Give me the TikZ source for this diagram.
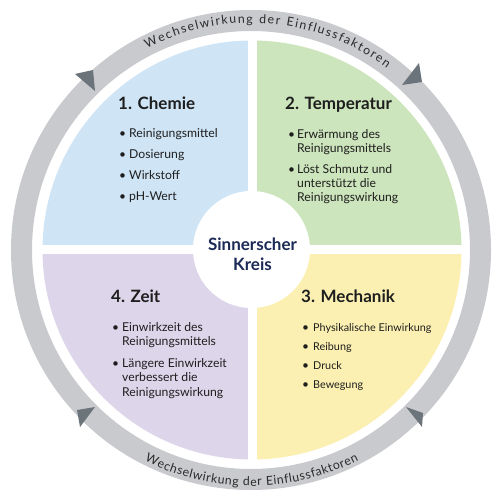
\documentclass[tikz,border=0pt]{standalone}
\usepackage{fontspec}
\setmainfont{Lato}
\usetikzlibrary{decorations.text}
\definecolor{ringgray}{HTML}{C9CACD}
\definecolor{arrowgray}{HTML}{6B737B}
\definecolor{qblue}{HTML}{CFE5F6}
\definecolor{qgreen}{HTML}{CDE5BC}
\definecolor{qpurple}{HTML}{DDD5EA}
\definecolor{qyellow}{HTML}{FBF0B2}
\definecolor{navy}{HTML}{1B2A57}
\definecolor{ink}{HTML}{1E1E1E}
\definecolor{ringtext}{HTML}{2A2A2A}
\begin{document}
\begin{tikzpicture}[x=1pt,y=-1pt,
  title/.style={font=\fontsize{17}{17}\selectfont\bfseries, text=ink, anchor=base west, inner sep=0pt},
  item/.style={font=\fontsize{12.2}{13}\selectfont, text=ink, anchor=base west, inner sep=0pt},
  smallitem/.style={font=\fontsize{10.8}{12}\selectfont, text=ink, anchor=base west, inner sep=0pt},
  bul/.style={font=\fontsize{12}{13}\selectfont, text=ink, anchor=base west, inner sep=0pt},
  center/.style={font=\fontsize{17}{17}\selectfont\bfseries, text=navy, anchor=base, inner sep=0pt},
  arrowhead/.style={fill=arrowgray},
  ringlabel/.style={decorate, decoration={text along path, text align=fit to path,
     text format delimiters={|}{|},
     text={|\fontsize{12.3}{13}\selectfont\color{ringtext}|Wechselwirkung der Einflussfaktoren}}}
]
\useasboundingbox (0,0) rectangle (500,500);
\fill[white] (0,0) rectangle (500,500);
\coordinate (C) at (251,250);
% ring
\fill[ringgray, even odd rule] (C) circle[radius=240] (C) circle[radius=219];
% arrowheads
\fill[arrowhead] (75,74) -- (93,70) -- (95,91) -- cycle;
\fill[arrowhead] (419,63) -- (422,82) -- (402,85) -- cycle;
\fill[arrowhead] (406,407) -- (423,413) -- (422,427) -- cycle;
\fill[arrowhead] (95,407) -- (77,410) -- (80,427) -- cycle;
% ring texts
\path[ringlabel] (C) ++(242.7:227) arc[start angle=242.7, end angle=306.7, radius=227];
\path[ringlabel] (C) ++(116.8:236) arc[start angle=116.8, end angle=62.9, radius=236];
% quadrants
\begin{scope}
\clip (252,250) circle[radius=209.5];
\fill[qblue] (0,0) rectangle (247.5,245);
\fill[qgreen] (256.5,0) rectangle (500,245);
\fill[qpurple] (0,254) rectangle (247.5,500);
\fill[qyellow] (256.5,254) rectangle (500,500);
\end{scope}
\fill[white] (251.5,249.5) circle[radius=58.5];
% center label
\node[center] (c1) at (252.5,250) {Sinnerscher};
\node[center] (c2) at (252.5,270) {Kreis};
% 1. Chemie
\node[title] (t1) at (118,110) {1. Chemie};
\node[bul] (b11) at (119,137) {\textbullet};
\node[item] (i11) at (129,137) {Reinigungsmittel};
\node[bul] (b12) at (119,158) {\textbullet};
\node[item] (i12) at (129,158) {Dosierung};
\node[bul] (b13) at (119,179) {\textbullet};
\node[item] (i13) at (129,179) {Wirkstoff};
\node[bul] (b14) at (119,200) {\textbullet};
\node[item] (i14) at (129,200) {pH-Wert};
% 2. Temperatur
\node[title] (t2) at (285,110) {2. Temperatur};
\node[bul] (b21) at (288,138) {\textbullet};
\node[item] (i21a) at (297,138) {Erwärmung des};
\node[item] (i21b) at (297,152) {Reinigungsmittels};
\node[bul] (b22) at (288,173) {\textbullet};
\node[item] (i22a) at (297,173) {Löst Schmutz und};
\node[item] (i22b) at (297,187) {unterstützt die};
\node[item] (i22c) at (297,201) {Reinigungswirkung};
% 4. Zeit
\node[title] (t4) at (111,302) {4. Zeit};
\node[bul] (b41) at (112,331) {\textbullet};
\node[item] (i41a) at (122,331) {Einwirkzeit des};
\node[item] (i41b) at (122,345) {Reinigungsmittels};
\node[bul] (b42) at (112,367) {\textbullet};
\node[item] (i42a) at (122,367) {Längere Einwirkzeit};
\node[item] (i42b) at (122,381) {verbessert die};
\node[item] (i42c) at (122,396) {Reinigungswirkung};
% 3. Mechanik
\node[title] (t3) at (301,302) {3. Mechanik};
\node[bul] (b31) at (302,331) {\textbullet};
\node[smallitem] (i31) at (313,331) {Physikalische Einwirkung};
\node[bul] (b32) at (302,350) {\textbullet};
\node[smallitem] (i32) at (313,350) {Reibung};
\node[bul] (b33) at (302,369) {\textbullet};
\node[smallitem] (i33) at (313,369) {Druck};
\node[bul] (b34) at (302,388) {\textbullet};
\node[smallitem] (i34) at (313,388) {Bewegung};
\end{tikzpicture}
\end{document}
